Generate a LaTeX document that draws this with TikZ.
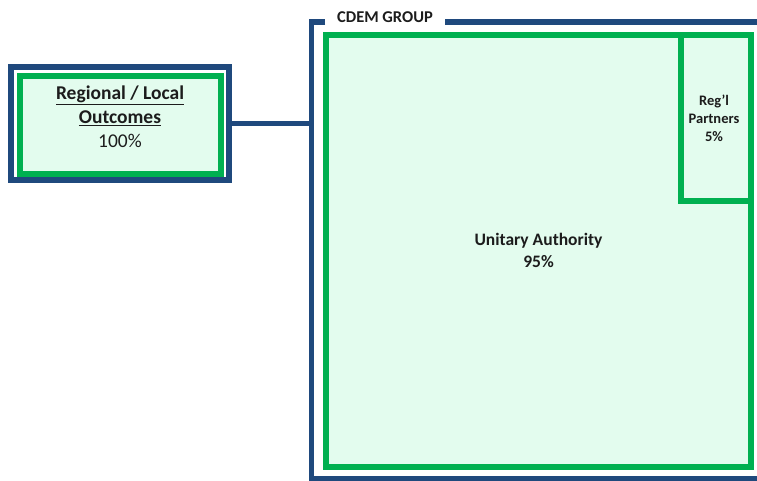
\documentclass[tikz,border=0pt]{standalone}
\usepackage{fontspec}
\setmainfont{Carlito}
\definecolor{frameblue}{HTML}{1F497D}
\definecolor{boxgreen}{HTML}{00B050}
\definecolor{mint}{HTML}{E3FCEE}
\definecolor{ink}{HTML}{1C1C1C}
\begin{document}
\begin{tikzpicture}[x=1pt,y=-1pt,
  bluebox/.style={draw=frameblue,line width=6pt,fill=white,rectangle,inner sep=0pt,outer sep=0pt},
  greenbox/.style={draw=boxgreen,line width=6pt,fill=mint,rectangle,inner sep=0pt,outer sep=0pt},
  frameline/.style={draw=frameblue,line width=5.5pt},
  link/.style={draw=frameblue,line width=5.5pt},
  boxtext/.style={text=ink,align=center,inner sep=0pt}]
\useasboundingbox (0,0) rectangle (757,480);
\clip (0,0) rectangle (757,480);
\fill[white] (0,0) rectangle (757,480);

% CDEM group frame, open at the title
\coordinate (frameL) at (311.5,22);
\draw[frameline] (325,22) -- (frameL) -- (311.5,479) -- (765,479);
\draw[frameline] (445,22) -- (765,22);
\node[boxtext,font=\bfseries\fontsize{16.5}{18}\selectfont] (cdem) at (385,17) {CDEM GROUP};

% member boxes
\node[greenbox,minimum width=424.4pt,minimum height=431.7pt] (ua) at (538.5,250.85) {};
\node[boxtext,font=\bfseries\fontsize{17.5}{22}\selectfont] (uatext) at (ua.center) {Unitary Authority\\95\%};
\node[greenbox,minimum width=69.7pt,minimum height=165.5pt] (reg) at (715.85,117.75) {};
\node[boxtext,font=\bfseries\fontsize{14.5}{18}\selectfont] (regtext) at (714,118.5) {Reg’l\\Partners\\5\%};

% outcomes box
\node[bluebox,minimum width=217.5pt,minimum height=113.5pt] (outer) at (119.75,123.25) {};
\node[greenbox,minimum width=201.5pt,minimum height=98pt] (local) at (120.25,124.5) {};
\node[boxtext,font=\fontsize{19.5}{24}\selectfont] (localtext) at (120,117)
  {\textbf{\underline{Regional / Local}}\\\textbf{\underline{Outcomes}}\\100\%};

% connector to the group frame
\draw[link] (outer.east) -- (outer.east -| frameL);
\end{tikzpicture}
\end{document}
